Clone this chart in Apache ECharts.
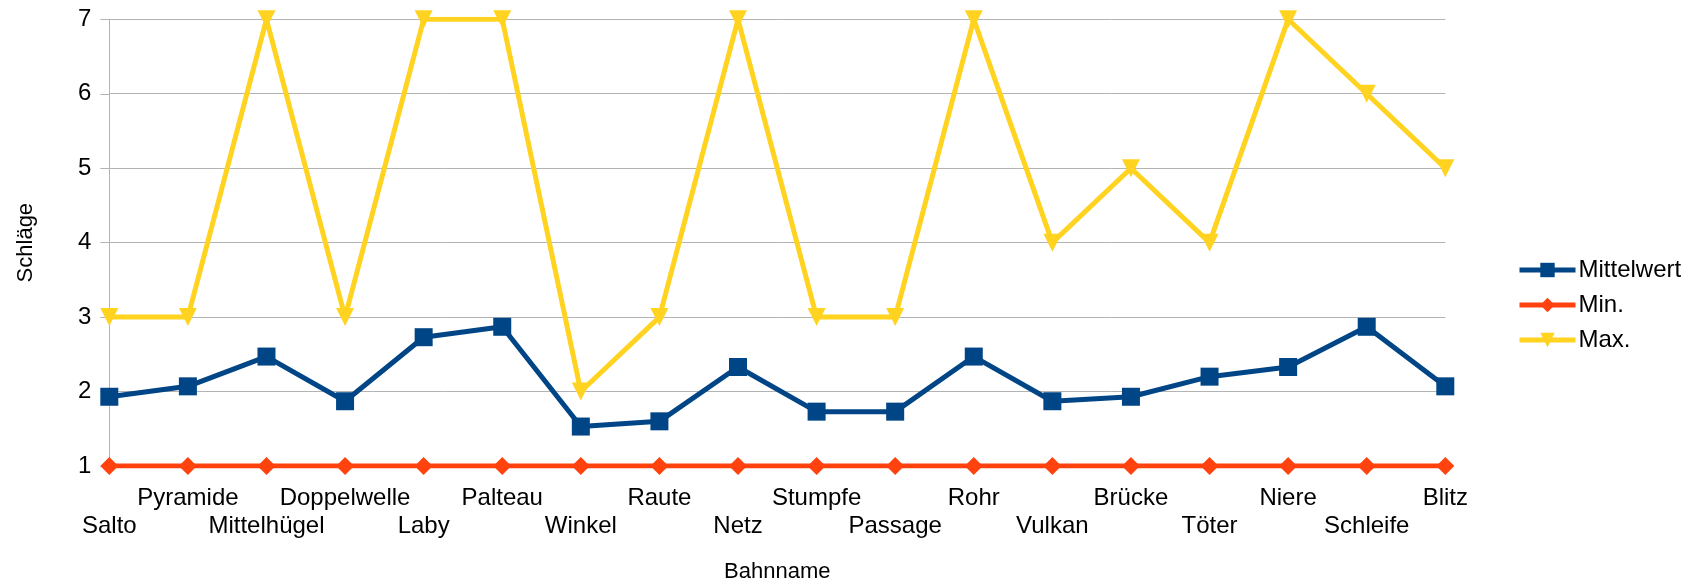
<!DOCTYPE html>
<html>
<head>
<meta charset="utf-8">
<script src="https://cdn.jsdelivr.net/npm/echarts@6/dist/echarts.min.js"></script>
<style>
html,body{margin:0;padding:0;background:#fff;}
#chart{width:1691px;height:588px;}
</style>
</head>
<body>
<div id="chart"></div>
<script>
const categories = ['Salto','Pyramide','Mittelhügel','Doppelwelle','Laby','Palteau','Winkel','Raute','Netz','Stumpfe','Passage','Rohr','Vulkan','Brücke','Töter','Niere','Schleife','Blitz'];
const mittelwert = [1.93,2.07,2.47,1.87,2.73,2.87,1.53,1.6,2.33,1.73,1.73,2.47,1.87,1.93,2.2,2.33,2.87,2.07];
const minVals = [1,1,1,1,1,1,1,1,1,1,1,1,1,1,1,1,1,1];
const maxVals = [3,3,7,3,7,7,2,3,7,3,3,7,4,5,4,7,6,5];
const yTicks = [1,2,3,4,5,6,7];

const FONT = '"Liberation Sans", Arial, sans-serif';
const chart = echarts.init(document.getElementById('chart'));
chart.setOption({
  animation: false,
  textStyle: { fontFamily: FONT, color: '#000' },
  grid: { left: 109.3, right: 245.7, top: 19.3, bottom: 118.7, containLabel: false },
  legend: {
    orient: 'vertical',
    left: 1512,
    top: 253,
    itemWidth: 56,
    itemHeight: 18,
    itemGap: 11,
    lineStyle: { width: 5 },
    textStyle: { fontSize: 24, color: '#000', fontFamily: FONT, padding: [0,0,0,-2] },
    data: ['Mittelwert','Min.','Max.']
  },
  xAxis: {
    type: 'category',
    data: categories,
    boundaryGap: false,
    name: 'Bahnname',
    nameLocation: 'middle',
    nameGap: 95,
    nameTextStyle: { fontSize: 22, color: '#000', fontFamily: FONT },
    axisLine: { show: true, lineStyle: { color: '#b3b3b3', width: 1 } },
    axisTick: { show: false },
    axisLabel: {
      interval: 0,
      margin: 18,
      fontSize: 24,
      lineHeight: 28,
      color: '#000',
      fontFamily: FONT,
      formatter: function (v, i) { return i % 2 === 0 ? '\n' + v : v; }
    },
    splitLine: { show: false }
  },
  yAxis: {
    type: 'value',
    min: 1,
    max: 7,
    interval: 1,
    name: 'Schläge',
    nameLocation: 'middle',
    nameGap: 72,
    nameTextStyle: { fontSize: 22, color: '#000', fontFamily: FONT },
    axisLine: { show: true, lineStyle: { color: '#b3b3b3', width: 1 } },
    axisTick: { show: true, length: 9, inside: false, lineStyle: { color: '#b3b3b3' } },
    axisLabel: {
      fontSize: 24, color: '#000', margin: 18, fontFamily: FONT,
      formatter: function (v) { return yTicks.indexOf(v) >= 0 ? String(v) : ''; }
    },
    splitLine: { show: true, lineStyle: { color: '#b3b3b3', width: 1 } }
  },
  series: [
    {
      name: 'Mittelwert', type: 'line', data: mittelwert,
      symbol: 'rect', symbolSize: 18,
      lineStyle: { color: '#004586', width: 5 },
      itemStyle: { color: '#004586' },
      z: 3
    },
    {
      name: 'Min.', type: 'line', data: minVals,
      symbol: 'diamond', symbolSize: 18,
      lineStyle: { color: '#ff420e', width: 5 },
      itemStyle: { color: '#ff420e' },
      z: 4
    },
    {
      name: 'Max.', type: 'line', data: maxVals,
      symbol: 'triangle', symbolRotate: 180, symbolSize: 18,
      lineStyle: { color: '#ffd320', width: 5 },
      itemStyle: { color: '#ffd320' },
      z: 2
    }
  ]
});
</script>
</body>
</html>
